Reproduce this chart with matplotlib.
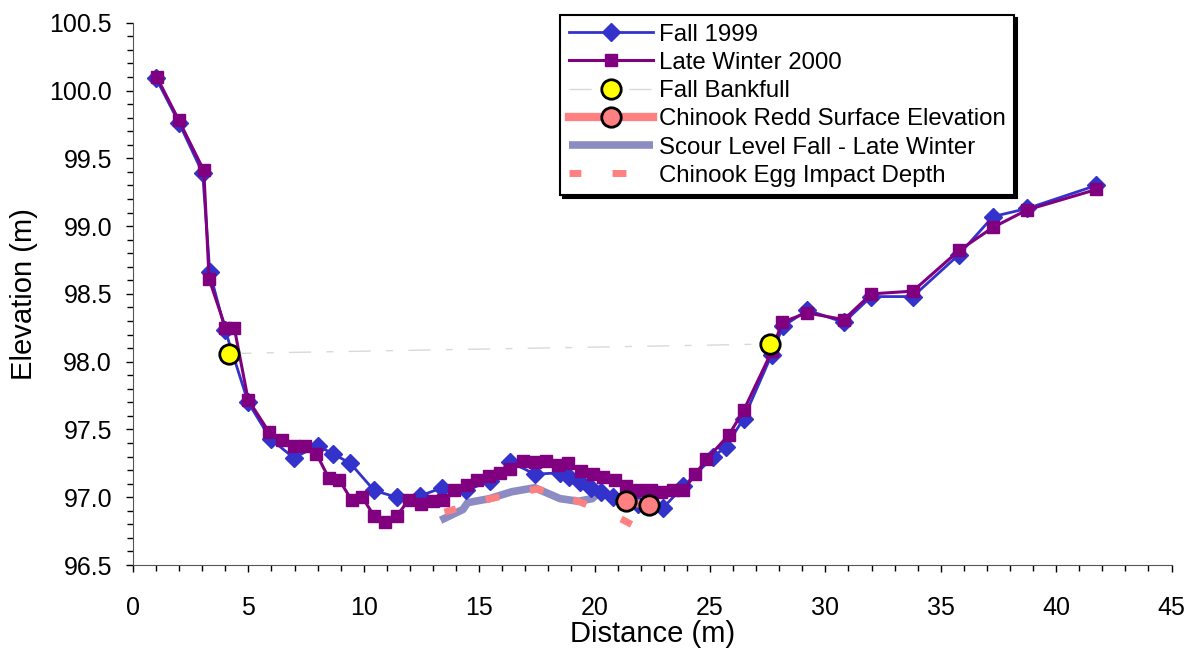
import matplotlib
matplotlib.use("Agg")
import matplotlib.pyplot as plt
from matplotlib.ticker import MultipleLocator, FormatStrFormatter

plt.rcParams['font.family'] = ['Liberation Sans', 'DejaVu Sans']

# cross-section survey, fall 1999
fall_x = [1.0, 2.0, 3.02, 3.33, 4.0, 4.99, 5.96, 6.97, 8.0, 8.67, 9.42, 10.45,
          11.42, 12.43, 13.41, 14.45, 15.46, 16.35, 17.41, 18.49, 18.9, 19.36,
          19.86, 20.29, 20.8, 21.35, 21.9, 22.96, 23.85, 25.15, 25.68, 26.46,
          27.67, 28.16, 29.22, 30.8, 31.99, 33.79, 35.79, 37.26, 38.75, 41.74]
fall_y = [100.09, 99.76, 99.39, 98.66, 98.23, 97.70, 97.43, 97.29, 97.38, 97.32,
          97.25, 97.05, 97.00, 97.01, 97.07, 97.05, 97.12, 97.26, 97.17, 97.18,
          97.15, 97.11, 97.07, 97.04, 97.00, 96.97, 96.95, 96.92, 97.08, 97.30,
          97.37, 97.58, 98.05, 98.26, 98.38, 98.29, 98.48, 98.48, 98.79, 99.07,
          99.13, 99.30]

# cross-section survey, late winter 2000
winter_x = [1.03, 1.99, 3.07, 3.30, 4.01, 4.39, 4.99, 5.90, 6.47, 6.99, 7.45,
            7.95, 8.49, 8.93, 9.47, 9.94, 10.45, 10.94, 11.42, 11.95, 12.46,
            13.0, 13.44, 13.91, 14.48, 14.91, 15.43, 15.89, 16.35, 16.9, 17.41,
            17.89, 18.4, 18.85, 19.43, 19.93, 20.36, 20.87, 21.38, 21.92, 22.45,
            22.89, 23.4, 23.85, 24.36, 24.85, 25.82, 26.46, 27.69, 28.12, 29.2,
            30.8, 31.99, 33.79, 35.79, 37.26, 38.75, 41.74]
winter_y = [100.10, 99.78, 99.41, 98.61, 98.25, 98.25, 97.72, 97.48, 97.42,
            97.38, 97.38, 97.32, 97.14, 97.13, 96.98, 97.00, 96.86, 96.82, 96.86,
            96.98, 96.95, 96.97, 96.98, 97.05, 97.09, 97.13, 97.16, 97.18, 97.21,
            97.27, 97.26, 97.27, 97.24, 97.25, 97.19, 97.17, 97.15, 97.13, 97.08,
            97.05, 97.05, 97.04, 97.05, 97.05, 97.17, 97.28, 97.46, 97.64, 98.08,
            98.29, 98.36, 98.31, 98.50, 98.52, 98.82, 98.99, 99.12, 99.27]

bankfull_x = [4.17, 27.59]
bankfull_y = [98.06, 98.13]

redd_x = [21.38, 22.36]
redd_y = [96.97, 96.94]

scour_x = [13.33, 14.3, 14.5, 15.46, 16.4, 17.41, 18.5, 19.3, 19.9, 20.1]
scour_y = [96.83, 96.91, 96.96, 96.99, 97.04, 97.07, 96.99, 96.97, 96.99, 97.02]

egg_x = [13.5, 15.5, 17.5, 18.5, 19.9]
egg_y = [96.89, 96.99, 97.06, 97.02, 96.93]
egg2_x = [21.15, 21.7]
egg2_y = [96.84, 96.79]

fig = plt.figure(figsize=(11.87, 6.49), dpi=100)
ax = fig.add_axes([0.112, 0.1294, 0.875, 0.8356])

ax.plot(scour_x, scour_y, color='#8080bc', lw=5.5, alpha=0.9, solid_capstyle='butt',
        label='Scour Level Fall - Late Winter', zorder=2)
egg_style = dict(color='#ff8080', lw=5, linestyle=(0.3, (2.0, 4.5)), dash_capstyle='butt', zorder=3)
ax.plot(egg_x, egg_y, label='Chinook Egg Impact Depth', **egg_style)
ax.plot(egg2_x, egg2_y, **egg_style)

ax.plot(fall_x, fall_y, color='#3333cc', lw=2, marker='D', ms=9,
        label='Fall 1999', zorder=4)
ax.plot(winter_x, winter_y, color='#800080', lw=2.2, marker='s', ms=8,
        label='Late Winter 2000', zorder=5)
ax.plot(bankfull_x, bankfull_y, color='#d9d9d9', lw=1, linestyle=(0, (16, 11, 5, 11)),
        marker='o', ms=14, mfc='#ffff00', mec='black', mew=2,
        label='Fall Bankfull', zorder=6)
ax.plot(redd_x, redd_y, color='#ff8080', lw=6, marker='o', ms=14, mfc='#ff8080',
        mec='black', mew=2, label='Chinook Redd Surface Elevation', zorder=6)

ax.set_xlim(0, 45)
ax.set_ylim(96.5, 100.5)
ax.xaxis.set_major_locator(MultipleLocator(5))
ax.xaxis.set_minor_locator(MultipleLocator(1))
ax.yaxis.set_major_locator(MultipleLocator(0.5))
ax.yaxis.set_minor_locator(MultipleLocator(0.1))
ax.yaxis.set_major_formatter(FormatStrFormatter('%.1f'))
ax.tick_params(which='both', direction='out', labelsize=18, width=1, color='black')
ax.tick_params(which='major', length=5)
ax.tick_params(which='minor', length=4)
ax.tick_params(axis='x', which='major', pad=17)
ax.tick_params(axis='y', which='major', pad=10)
for side in ('top', 'right'):
    ax.spines[side].set_visible(False)
for side in ('left', 'bottom'):
    ax.spines[side].set_color('#555555')
ax.set_xlabel('Distance (m)', fontsize=21, labelpad=0)
ax.set_ylabel('Elevation (m)', fontsize=21, labelpad=8)

handles, labels = ax.get_legend_handles_labels()
order = ['Fall 1999', 'Late Winter 2000', 'Fall Bankfull',
         'Chinook Redd Surface Elevation', 'Scour Level Fall - Late Winter',
         'Chinook Egg Impact Depth']
hmap = dict(zip(labels, handles))
leg = ax.legend([hmap[k] for k in order], order, loc='upper left',
                bbox_to_anchor=(0.472, 0.977), bbox_transform=fig.transFigure,
                borderaxespad=0, fontsize=17.3, handlelength=3.5, handletextpad=0.25,
                labelspacing=0.26, borderpad=0.36, fancybox=False, framealpha=1,
                edgecolor='black', shadow={'color': 'black', 'alpha': 1})
leg.get_frame().set_linewidth(1.5)

fig.savefig('out.png', dpi=100)
